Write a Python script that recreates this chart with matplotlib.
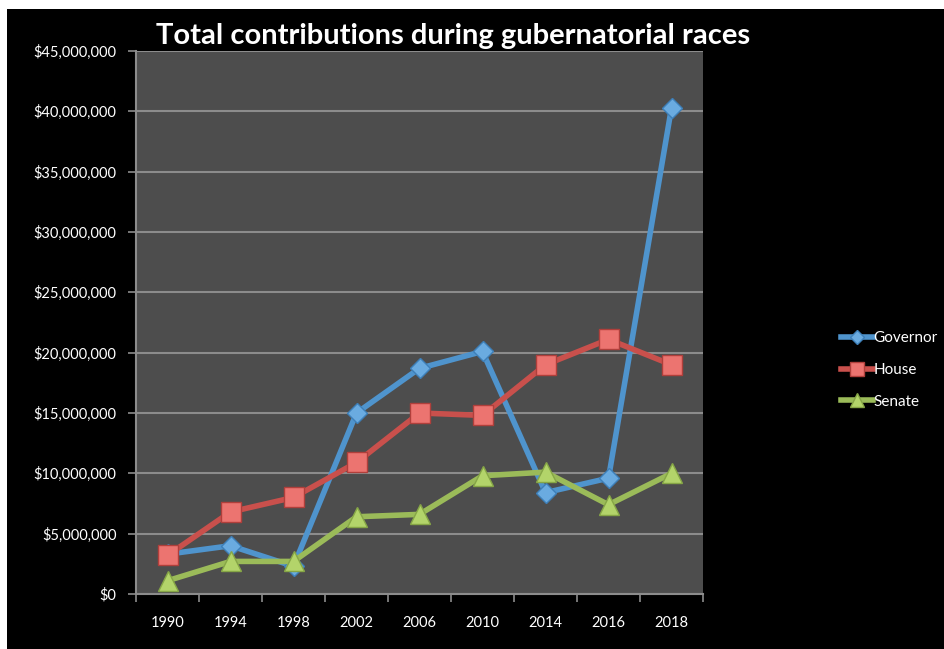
import matplotlib
matplotlib.use("Agg")
from matplotlib import pyplot as plt
from matplotlib.patches import Rectangle
from matplotlib.ticker import FuncFormatter, MultipleLocator

years = ["1990", "1994", "1998", "2002", "2006", "2010", "2014", "2016", "2018"]

# total contributions per race type, in dollars
governor = [3.3e6, 4.0e6, 2.3e6, 15.0e6, 18.7e6, 20.1e6, 8.4e6, 9.6e6, 40.3e6]
house = [3.2e6, 6.8e6, 8.0e6, 10.9e6, 15.0e6, 14.8e6, 19.0e6, 21.1e6, 19.0e6]
senate = [1.1e6, 2.7e6, 2.7e6, 6.4e6, 6.6e6, 9.8e6, 10.1e6, 7.4e6, 10.0e6]

plt.rcParams['font.family'] = ['Lato', 'DejaVu Sans']

fig = plt.figure(figsize=(9.44, 6.49), dpi=100)
fig.patch.set_facecolor('white')
# black slide background, small white margin on top and left
fig.patches.append(Rectangle((7 / 944, 0), 1, 1 - 9 / 649, transform=fig.transFigure,
                             facecolor='black', edgecolor='none', zorder=-5))

ax = fig.add_axes([136 / 944, 1 - 594 / 649, 567 / 944, 543 / 649])
ax.set_facecolor('#4d4d4d')

x_values = range(len(years))
ax.plot(x_values, governor, color='#4f94cd', lw=4, marker='D', ms=10,
        mfc='#6aabe0', mec='#3d7fb8', mew=1, label='Governor', zorder=3)
ax.plot(x_values, house, color='#c9504c', lw=4, marker='s', ms=14,
        mfc='#ec7470', mec='#b03f3b', mew=1, label='House', zorder=4)
ax.plot(x_values, senate, color='#9bbb59', lw=4, marker='^', ms=14,
        mfc='#b3d46a', mec='#86a646', mew=1, label='Senate', zorder=5)

ax.set_xlim(-0.5, len(years) - 0.5)
ax.set_ylim(0, 45e6)
ax.yaxis.set_major_locator(MultipleLocator(5e6))
ax.yaxis.set_major_formatter(FuncFormatter(lambda v, p: '${:,.0f}'.format(v)))
# category boundaries carry the tick marks, labels sit at the centres
ax.set_xticks([i + 0.5 for i in range(-1, len(years))])
ax.set_xticklabels([])
ax.set_xticks(list(x_values), minor=True)
ax.set_xticklabels(years, minor=True)
ax.tick_params(axis='x', which='minor', length=0, pad=16, labelcolor='white', labelsize=10.5)
ax.tick_params(axis='x', which='major', length=6, color='#8c8c8c', width=1.2)
ax.tick_params(axis='y', length=6, color='#8c8c8c', width=1.2, labelcolor='white',
               labelsize=10.5, pad=8)

ax.grid(axis='y', color='#8c8c8c', lw=1.5)
ax.set_axisbelow(True)
for side in ['top', 'right']:
    ax.spines[side].set_visible(False)
for side in ['left', 'bottom']:
    ax.spines[side].set_color('#8c8c8c')
    ax.spines[side].set_linewidth(1.5)

fig.text(453 / 944, 1 - 36 / 649, 'Total contributions during gubernatorial races',
         ha='center', va='center', color='white', fontsize=21, fontweight='bold')

leg = ax.legend(loc='center left', bbox_to_anchor=(827 / 944, 1 - 370 / 649),
                bbox_transform=fig.transFigure, frameon=False, fontsize=11,
                handlelength=2.1, handletextpad=0.05, labelspacing=1.15, markerscale=0.75)
for t in leg.get_texts():
    t.set_color('white')

plt.savefig('out.png', dpi=100, facecolor=fig.get_facecolor())
